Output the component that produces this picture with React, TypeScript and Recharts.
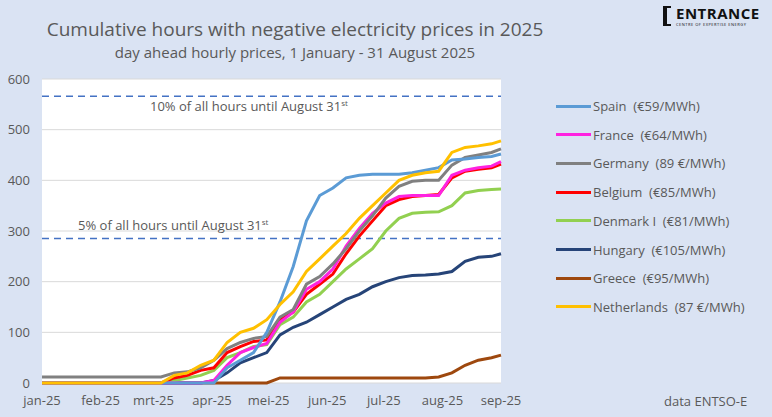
import { LineChart, Line, XAxis, YAxis, CartesianGrid, ReferenceLine } from "recharts";

const days = [0, 14, 28, 42, 56, 63, 70, 77, 84, 91, 98, 105, 112, 119, 126, 133, 140, 147, 154, 161, 168, 175, 182, 189, 196, 203, 210, 217, 224, 231, 238, 243];
const monthTicks = [0, 31, 59, 90, 120, 151, 181, 212, 243];
const monthLabels = ["jan-25", "feb-25", "mrt-25", "apr-25", "mei-25", "jun-25", "jul-25", "aug-25", "sep-25"];

const spain = [0, 0, 0, 0, 0, 0, 0, 0, 0, 0, 30, 45, 60, 100, 160, 230, 320, 370, 385, 405, 410, 412, 412, 412, 415, 420, 425, 440, 442, 445, 447, 452];
const france = [0, 0, 0, 0, 0, 0, 0, 0, 0, 5, 35, 60, 70, 78, 120, 140, 185, 200, 225, 270, 305, 335, 355, 368, 370, 370, 370, 410, 420, 425, 428, 437];
const germany = [12, 12, 12, 12, 12, 12, 20, 22, 30, 45, 68, 80, 88, 92, 130, 145, 195, 210, 235, 265, 300, 330, 365, 388, 398, 400, 400, 430, 445, 450, 455, 462];
const belgium = [0, 0, 0, 0, 0, 0, 10, 15, 25, 30, 60, 72, 82, 85, 125, 140, 175, 195, 215, 255, 290, 320, 350, 362, 368, 370, 372, 405, 418, 422, 425, 432];
const denmark = [0, 0, 0, 0, 0, 0, 5, 10, 15, 25, 50, 60, 72, 76, 115, 130, 160, 175, 200, 225, 245, 265, 300, 325, 335, 337, 338, 350, 375, 380, 382, 383];
const hungary = [0, 0, 0, 0, 0, 0, 0, 0, 0, 5, 20, 40, 50, 60, 95, 110, 120, 135, 150, 165, 175, 190, 200, 208, 212, 213, 215, 220, 240, 248, 250, 255];
const greece = [0, 0, 0, 0, 0, 0, 0, 0, 0, 0, 0, 0, 0, 0, 10, 10, 10, 10, 10, 10, 10, 10, 10, 10, 10, 10, 12, 20, 35, 45, 50, 55];
const netherlands = [0, 0, 0, 0, 0, 0, 15, 20, 35, 45, 80, 100, 108, 125, 155, 180, 220, 245, 270, 295, 325, 350, 375, 400, 410, 415, 418, 455, 465, 468, 472, 478];

const series = [
  { key: "greece", name: "Greece  (€95/MWh)", color: "#9e480e", values: greece },
  { key: "hungary", name: "Hungary  (€105/MWh)", color: "#264478", values: hungary },
  { key: "denmark", name: "Denmark I  (€81/MWh)", color: "#92d050", values: denmark },
  { key: "belgium", name: "Belgium  (€85/MWh)", color: "#ff0000", values: belgium },
  { key: "france", name: "France  (€64/MWh)", color: "#ff22e0", values: france },
  { key: "germany", name: "Germany  (89 €/MWh)", color: "#808080", values: germany },
  { key: "spain", name: "Spain  (€59/MWh)", color: "#5b9bd5", values: spain },
  { key: "netherlands", name: "Netherlands  (87 €/MWh)", color: "#ffc000", values: netherlands },
];
const legendOrder = ["spain", "france", "germany", "belgium", "denmark", "hungary", "greece", "netherlands"];

const data = days.map((d, i) => {
  const row: Record<string, number> = { day: d };
  series.forEach((s) => (row[s.key] = s.values[i]));
  return row;
});

const font = "'Open Sans', 'Noto Sans', sans-serif";
const grey = "#595959";

export default function App() {
  return (
    <div style={{ position: "absolute", left: 0, top: 0, width: 772, height: 417, background: "#dae3f3", fontFamily: font, color: grey }}>
      <div style={{ position: "absolute", top: 16, left: 0, width: 590, textAlign: "center", fontSize: 19 }}>
        Cumulative hours with negative electricity prices in 2025
      </div>
      <div style={{ position: "absolute", top: 42, left: 0, width: 590, textAlign: "center", fontSize: 15 }}>
        day ahead hourly prices, 1 January - 31 August 2025
      </div>
      <div style={{ position: "absolute", top: 5, left: 663, display: "flex", alignItems: "flex-start", color: "#111" }}>
        <div style={{ width: 8, height: 20, borderLeft: "4px solid #111", borderTop: "2px solid #111", borderBottom: "2px solid #111", boxSizing: "border-box", marginRight: 5, marginTop: 1 }} />
        <div>
          <div style={{ fontSize: 15, fontWeight: 700, lineHeight: "17px", letterSpacing: 0.5 }}>ENTRANCE</div>
          <div style={{ fontSize: 4, lineHeight: "5px", letterSpacing: 0.5, whiteSpace: "nowrap" }}>CENTRE OF EXPERTISE ENERGY</div>
        </div>
      </div>
      <LineChart width={772} height={417} data={data} margin={{ top: 79, right: 271, bottom: 0, left: 0 }}>
        <CartesianGrid fill="#ffffff" stroke="#d9d9d9" vertical={false} />
        <XAxis dataKey="day" type="number" domain={[0, 243]} ticks={monthTicks} tickFormatter={(v: number) => monthLabels[monthTicks.indexOf(v)]} height={34} tickLine={false} axisLine={false} tick={{ fill: grey, fontSize: 13, fontFamily: font, dy: 5 }} interval={0} />
        <YAxis domain={[0, 600]} ticks={[0, 100, 200, 300, 400, 500, 600]} width={42} tickLine={false} axisLine={false} tick={{ fill: grey, fontSize: 13, fontFamily: font, dx: -4 }} />
        <ReferenceLine y={566} stroke="#4472c4" strokeWidth={1.5} strokeDasharray="7 5" />
        <ReferenceLine y={285} stroke="#4472c4" strokeWidth={1.5} strokeDasharray="7 5" />
        {series.map((s) => (
          <Line key={s.key} dataKey={s.key} stroke={s.color} strokeWidth={3} dot={false} type="linear" isAnimationActive={false} />
        ))}
      </LineChart>
      <div style={{ position: "absolute", left: 150, top: 97, fontSize: 13 }}>
        10% of all hours until August 31<sup style={{ fontSize: 8 }}>st</sup>
      </div>
      <div style={{ position: "absolute", left: 78, top: 216, fontSize: 13 }}>
        5% of all hours until August 31<sup style={{ fontSize: 8 }}>st</sup>
      </div>
      {legendOrder.map((k, i) => {
        const s = series.find((x) => x.key === k)!;
        return (
          <div key={k} style={{ position: "absolute", left: 556, top: 97 + i * 28.7, display: "flex", alignItems: "center", fontSize: 13 }}>
            <div style={{ width: 35, height: 3, background: s.color, marginRight: 2 }} />
            <span style={{ whiteSpace: "pre" }}>{s.name}</span>
          </div>
        );
      })}
      <div style={{ position: "absolute", left: 664, top: 392, fontSize: 13 }}>data ENTSO-E</div>
    </div>
  );
}
